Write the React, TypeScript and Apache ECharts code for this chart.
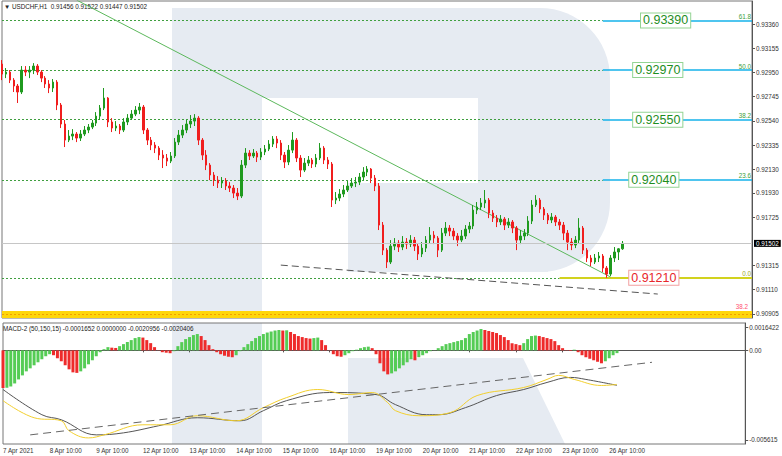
import React, { useEffect, useRef } from 'react';
import * as echarts from 'echarts';

const FONT = 'Liberation Sans';

const tradingDays = ['7 Apr', '8 Apr', '9 Apr', '12 Apr', '13 Apr', '14 Apr', '15 Apr', '16 Apr', '19 Apr', '20 Apr', '21 Apr', '22 Apr', '23 Apr', '26 Apr', '27 Apr', '28 Apr', '29 Apr', '30 Apr'];
const hoursOfDay = [0, 2, 4, 6, 8, 10, 12, 14, 16, 18, 20, 22];
const firstLabel = '7 Apr 2021';

const priceTicks = [0.93360, 0.93155, 0.92950, 0.92745, 0.92540, 0.92335, 0.92130, 0.91930, 0.91725, 0.91315, 0.91110, 0.90905];
const macdTicks = [0.0014, 0, -0.00537];
const macdTickNames = ['0.0016422', '0.00', '-0.005615'];

const firstOpen = 0.93021;
const closes = [
  0.92936, 0.92953, 0.92885, 0.92835, 0.92784, 0.92970, 0.92953, 0.92970, 0.93004, 0.92953,
  0.92902, 0.92852, 0.92818, 0.92868, 0.92674, 0.92513, 0.92377, 0.92411, 0.92428, 0.92394,
  0.92428, 0.92462, 0.92487, 0.92521, 0.92580, 0.92648, 0.92733, 0.92530, 0.92479, 0.92496,
  0.92462, 0.92530, 0.92563, 0.92597, 0.92631, 0.92657, 0.92462, 0.92377, 0.92335, 0.92309,
  0.92250, 0.92225, 0.92199, 0.92242, 0.92360, 0.92419, 0.92462, 0.92513, 0.92538, 0.92563,
  0.92377, 0.92250, 0.92165, 0.92081, 0.92038, 0.92013, 0.92030, 0.91988, 0.91971, 0.91928,
  0.91903, 0.92165, 0.92267, 0.92242, 0.92267, 0.92233, 0.92276, 0.92301, 0.92343, 0.92386,
  0.92352, 0.92250, 0.92191, 0.92292, 0.92377, 0.92225, 0.92123, 0.92182, 0.92208, 0.92174,
  0.92225, 0.92309, 0.92208, 0.92174, 0.91869, 0.91886, 0.91920, 0.91954, 0.91988, 0.92013,
  0.92021, 0.92064, 0.92106, 0.92132, 0.92055, 0.91988, 0.91657, 0.91445, 0.91344, 0.91479,
  0.91505, 0.91471, 0.91513, 0.91496, 0.91530, 0.91479, 0.91412, 0.91462, 0.91530, 0.91572,
  0.91547, 0.91445, 0.91589, 0.91632, 0.91606, 0.91564, 0.91530, 0.91564, 0.91623, 0.91649,
  0.91784, 0.91810, 0.91844, 0.91869, 0.91759, 0.91716, 0.91683, 0.91708, 0.91657, 0.91683,
  0.91632, 0.91530, 0.91564, 0.91589, 0.91691, 0.91827, 0.91869, 0.91793, 0.91742, 0.91700,
  0.91725, 0.91683, 0.91657, 0.91589, 0.91513, 0.91488, 0.91530, 0.91632, 0.91445, 0.91378,
  0.91344, 0.91378, 0.91395, 0.91293, 0.91242, 0.91378, 0.91429, 0.91456, 0.91502,
];
const highs = [
  0.93055, 0.92987, 0.92970, 0.92902, 0.92852, 0.93004, 0.93004, 0.93004, 0.93029, 0.93021,
  0.92970, 0.92919, 0.92885, 0.92894, 0.92885, 0.92691, 0.92547, 0.92462, 0.92470, 0.92445,
  0.92462, 0.92496, 0.92513, 0.92547, 0.92614, 0.92674, 0.92818, 0.92741, 0.92563, 0.92538,
  0.92513, 0.92563, 0.92597, 0.92631, 0.92665, 0.92691, 0.92674, 0.92479, 0.92403, 0.92360,
  0.92326, 0.92292, 0.92259, 0.92276, 0.92394, 0.92462, 0.92504, 0.92547, 0.92589, 0.92597,
  0.92580, 0.92394, 0.92292, 0.92182, 0.92106, 0.92072, 0.92064, 0.92055, 0.92021, 0.91996,
  0.91971, 0.92208, 0.92309, 0.92292, 0.92301, 0.92284, 0.92309, 0.92335, 0.92377, 0.92411,
  0.92411, 0.92377, 0.92276, 0.92335, 0.92445, 0.92394, 0.92250, 0.92225, 0.92242, 0.92225,
  0.92259, 0.92352, 0.92326, 0.92233, 0.92191, 0.91937, 0.91962, 0.91996, 0.92030, 0.92055,
  0.92064, 0.92098, 0.92148, 0.92157, 0.92140, 0.92081, 0.92013, 0.91683, 0.91462, 0.91530,
  0.91547, 0.91530, 0.91564, 0.91547, 0.91572, 0.91556, 0.91505, 0.91513, 0.91564, 0.91640,
  0.91606, 0.91564, 0.91632, 0.91683, 0.91657, 0.91632, 0.91589, 0.91615, 0.91657, 0.91683,
  0.91827, 0.91852, 0.91886, 0.91954, 0.91886, 0.91784, 0.91742, 0.91742, 0.91725, 0.91716,
  0.91700, 0.91649, 0.91615, 0.91623, 0.91733, 0.91869, 0.91911, 0.91886, 0.91810, 0.91759,
  0.91759, 0.91742, 0.91708, 0.91683, 0.91615, 0.91547, 0.91564, 0.91716, 0.91649, 0.91462,
  0.91403, 0.91412, 0.91429, 0.91412, 0.91310, 0.91403, 0.91471, 0.91462, 0.91522,
];
const lows = [
  0.92885, 0.92902, 0.92860, 0.92784, 0.92691, 0.92767, 0.92919, 0.92902, 0.92936, 0.92928,
  0.92868, 0.92818, 0.92775, 0.92784, 0.92631, 0.92479, 0.92318, 0.92360, 0.92377, 0.92360,
  0.92369, 0.92411, 0.92436, 0.92470, 0.92496, 0.92547, 0.92631, 0.92487, 0.92445, 0.92453,
  0.92428, 0.92445, 0.92504, 0.92547, 0.92580, 0.92597, 0.92428, 0.92335, 0.92292, 0.92267,
  0.92208, 0.92140, 0.92157, 0.92182, 0.92225, 0.92335, 0.92394, 0.92436, 0.92479, 0.92496,
  0.92335, 0.92208, 0.92123, 0.92038, 0.91988, 0.91971, 0.91971, 0.91954, 0.91937, 0.91886,
  0.91869, 0.91886, 0.92140, 0.92208, 0.92225, 0.92191, 0.92208, 0.92250, 0.92284, 0.92318,
  0.92309, 0.92208, 0.92140, 0.92165, 0.92267, 0.92191, 0.92064, 0.92106, 0.92157, 0.92140,
  0.92148, 0.92208, 0.92174, 0.92132, 0.91810, 0.91835, 0.91860, 0.91894, 0.91937, 0.91971,
  0.91979, 0.91996, 0.92038, 0.92072, 0.92013, 0.91945, 0.91615, 0.91403, 0.91293, 0.91327,
  0.91445, 0.91429, 0.91445, 0.91454, 0.91471, 0.91437, 0.91361, 0.91386, 0.91429, 0.91505,
  0.91496, 0.91386, 0.91429, 0.91564, 0.91564, 0.91530, 0.91479, 0.91513, 0.91539, 0.91589,
  0.91623, 0.91750, 0.91784, 0.91801, 0.91716, 0.91683, 0.91640, 0.91657, 0.91615, 0.91632,
  0.91589, 0.91445, 0.91496, 0.91530, 0.91564, 0.91666, 0.91810, 0.91759, 0.91700, 0.91666,
  0.91674, 0.91649, 0.91615, 0.91530, 0.91445, 0.91445, 0.91462, 0.91505, 0.91412, 0.91344,
  0.91310, 0.91327, 0.91344, 0.91259, 0.91210, 0.91225, 0.91344, 0.91361, 0.91447,
];
const lastPrice = 0.91502;

const fibValues = [0.93390, 0.92970, 0.92550, 0.92040, 0.91210];
const fibNames = ['61.8', '50.0', '38.2', '23.6', '0.0'];
const bandValue = 0.90905;
const bandName = '38.2';

const trendMain = [[19, 0.93563], [155, 0.91217]];
const supportLine = [[71, 0.91318], [167, 0.91073]];

const histogram = [
  -0.002256, -0.002240, -0.002165, -0.001984, -0.001742, -0.001500, -0.001258, -0.001077, -0.000895, -0.000714,
  -0.000532, -0.000351, -0.000230, -0.000290, -0.000472, -0.000653, -0.000895, -0.001137, -0.001318, -0.001349,
  -0.001258, -0.001077, -0.000835, -0.000593, -0.000351, -0.000109, 0.000073, 0.000194, 0.000163, 0.000145,
  0.000254, 0.000375, 0.000496, 0.000617, 0.000738, 0.000798, 0.000768, 0.000617, 0.000435, 0.000194,
  0.000012, -0.000109, -0.000139, -0.000169, -0.000048, 0.000254, 0.000496, 0.000677, 0.000798, 0.000919,
  0.000980, 0.000859, 0.000617, 0.000314, 0.000073, -0.000109, -0.000230, -0.000321, -0.000381, -0.000411,
  -0.000290, -0.000048, 0.000194, 0.000375, 0.000556, 0.000738, 0.000859, 0.000980, 0.001070, 0.001131,
  0.001191, 0.001222, 0.001191, 0.001204, 0.001101, 0.000980, 0.000859, 0.000798, 0.000738, 0.000708,
  0.000738, 0.000768, 0.000617, 0.000314, 0.000012, -0.000230, -0.000351, -0.000381, -0.000290, -0.000169,
  -0.000048, 0.000042, 0.000133, 0.000194, 0.000224, 0.000133, -0.000230, -0.000774, -0.001258, -0.001439,
  -0.001379, -0.001258, -0.001077, -0.000895, -0.000714, -0.000532, -0.000593, -0.000411, -0.000290, -0.000169,
  -0.000048, 0.000012, 0.000133, 0.000254, 0.000375, 0.000435, 0.000496, 0.000556, 0.000617, 0.000738,
  0.000980, 0.001101, 0.001191, 0.001282, 0.001222, 0.001161, 0.001101, 0.001040, 0.000919, 0.000798,
  0.000617, 0.000435, 0.000375, 0.000314, 0.000435, 0.000677, 0.000859, 0.000889, 0.000859, 0.000798,
  0.000738, 0.000677, 0.000556, 0.000314, 0.000133, -0.000018, -0.000036, 0.000042, -0.000109, -0.000290,
  -0.000411, -0.000502, -0.000593, -0.000683, -0.000774, -0.000653, -0.000472, -0.000290, -0.000165,
];
const macdLine = [
  [0, -0.002347], [10, -0.003859], [15, -0.004161], [24, -0.005068], [31, -0.004947], [40, -0.004524],
  [50, -0.004040], [61, -0.004222], [67, -0.003617], [73, -0.003012], [84, -0.002528], [96, -0.002649],
  [101, -0.003254], [109, -0.003859], [112, -0.003859], [119, -0.003435], [127, -0.002710], [134, -0.002347],
  [140, -0.001923], [146, -0.001621], [150, -0.001742], [158, -0.0020956],
];
const signalLine = [
  [0, -0.003012], [8, -0.004040], [15, -0.004222], [17, -0.004826], [22, -0.005250], [26, -0.005068],
  [36, -0.004463], [43, -0.004463], [50, -0.003919], [60, -0.004222], [67, -0.003435], [73, -0.002830],
  [81, -0.002347], [89, -0.002649], [95, -0.002528], [99, -0.003133], [101, -0.003617], [107, -0.003919],
  [115, -0.003738], [122, -0.002710], [134, -0.002226], [140, -0.001742], [143, -0.001500], [147, -0.001742],
  [154, -0.002105], [158, -0.0020406],
];
const macdTrend = [[7, -0.005068], [167, -0.000714]];

const headerText = '▼ USDCHF,H1  0.91456 0.91522 0.91447 0.91502';
const macdText = 'MACD-2 (50,150,15) -0.0001652 0.0000000 -0.0020956 -0.0020406';

// layout (pixels / indices), not data
const SLOTS = 192;
const lastIdx = closes.length - 1;
const splitIdx = [153, 153, 153, 153, 142];
const boxIdx = [169, 167, 167, 166, 166];
const WM = '#e6ebf2';

function buildOption() {
  const slots: { day: string; hour: number }[] = [];
  tradingDays.forEach((d, di) => {
    hoursOfDay.forEach((h) => {
      if (di === 0 && h < 10) return;
      slots.push({ day: d, hour: h });
    });
  });
  const used = slots.slice(0, SLOTS);
  const categories = used.map((s) => `${s.day} ${String(s.hour).padStart(2, '0')}:00`);
  const showLabel = (idx: number) => idx <= lastIdx && (idx === 0 || used[idx].hour === 10);

  const ohlc = closes.map((c, i) => [i === 0 ? firstOpen : closes[i - 1], c, lows[i], highs[i]]);
  const histData = histogram.map((v, i) => ({
    value: v,
    itemStyle: { color: i === 0 || v < histogram[i - 1] ? '#ee2b2b' : '#55cc55' },
  }));

  const fibMark: any[] = [];
  fibValues.forEach((v, k) => {
    fibMark.push([
      { coord: [0, v], lineStyle: { color: '#3f9f3f', width: 1, type: [2, 2] }, label: { show: false } },
      { coord: [splitIdx[k], v] },
    ]);
    fibMark.push([
      {
        coord: [splitIdx[k], v],
        lineStyle: { color: k === 4 ? '#d2d21e' : '#14b2ea', width: k === 4 ? 2 : 1.5, type: 'solid' },
        label: {
          show: true, position: 'insideEndTop', formatter: fibNames[k], distance: 1,
          color: k === 4 ? '#9aa81a' : '#3da03d', fontSize: 6.3, fontFamily: FONT,
        },
      },
      { coord: [SLOTS - 1, v] },
    ]);
  });
  fibMark.push([
    {
      coord: [0, bandValue], lineStyle: { color: '#ffd60a', width: 7, type: 'solid' },
      label: { show: true, position: 'insideEndTop', formatter: bandName, distance: 4, color: '#ff5070', fontSize: 6.3, fontFamily: FONT },
    },
    { coord: [SLOTS - 1, bandValue] },
  ]);
  fibMark.push([
    { coord: [0, bandValue], lineStyle: { color: '#f0a000', width: 1, type: [2, 2] }, label: { show: false } },
    { coord: [SLOTS - 1, bandValue] },
  ]);

  const axisLabelStyle = { fontSize: 6.3, fontFamily: FONT, color: '#333' };

  return {
    animation: false,
    backgroundColor: '#fff',
    textStyle: { fontFamily: FONT },
    grid: [
      { left: 2, right: 30, top: 1, height: 317, show: true, borderColor: '#777', borderWidth: 1 },
      { left: 2, right: 30, top: 323, height: 121, show: true, borderColor: '#777', borderWidth: 1 },
    ],
    xAxis: [
      {
        type: 'category', gridIndex: 0, data: categories, boundaryGap: false,
        axisLine: { show: false }, axisTick: { show: false }, axisLabel: { show: false }, splitLine: { show: false },
      },
      {
        type: 'category', gridIndex: 1, data: categories, boundaryGap: false,
        axisLine: { show: true, lineStyle: { color: '#555' } },
        axisTick: { show: true, length: 2, interval: (idx: number) => showLabel(idx), lineStyle: { color: '#555' } },
        axisLabel: {
          ...axisLabelStyle, align: 'left', margin: 3,
          interval: (idx: number) => showLabel(idx),
          formatter: (val: string, idx: number) => (idx === 0 ? firstLabel : val),
        },
        splitLine: { show: false },
      },
    ],
    yAxis: [
      {
        type: 'value', gridIndex: 0, position: 'right', min: 0.9087, max: 0.93555,
        axisLine: { show: true, lineStyle: { color: '#555' } },
        axisTick: { show: true, length: 3, customValues: priceTicks, lineStyle: { color: '#555' } },
        axisLabel: { ...axisLabelStyle, margin: 4, customValues: priceTicks, formatter: (v: number) => v.toFixed(5) },
        splitLine: { show: false },
      },
      {
        type: 'value', gridIndex: 1, position: 'right', min: -0.005615, max: 0.0016422,
        axisLine: { show: true, lineStyle: { color: '#555' } },
        axisTick: { show: true, length: 3, customValues: macdTicks, lineStyle: { color: '#555' } },
        axisLabel: {
          ...axisLabelStyle, margin: 4, customValues: macdTicks,
          formatter: (v: number) => macdTickNames[macdTicks.indexOf(v)] ?? '',
        },
        splitLine: { show: false },
      },
    ],
    graphic: [
      { type: 'rect', silent: true, z: -10, shape: { x: 172, y: 8, width: 90, height: 310 }, style: { fill: WM } },
      { type: 'rect', silent: true, z: -10, shape: { x: 262, y: 8, width: 260, height: 90 }, style: { fill: WM } },
      { type: 'rect', silent: true, z: -10, shape: { x: 478, y: 8, width: 132, height: 264, r: [0, 70, 70, 0] }, style: { fill: WM } },
      { type: 'rect', silent: true, z: -10, shape: { x: 348, y: 183, width: 200, height: 89 }, style: { fill: WM } },
      { type: 'rect', silent: true, z: -10, shape: { x: 172, y: 323, width: 90, height: 121 }, style: { fill: WM } },
      { type: 'polygon', silent: true, z: -10, shape: { points: [[348, 358], [523, 358], [565, 444], [348, 444]] }, style: { fill: WM } },
      { type: 'text', silent: true, left: 4, top: 3, style: { text: headerText, fontSize: 6.3, fontFamily: FONT, fill: '#222' } },
      { type: 'text', silent: true, left: 3, top: 325, style: { text: macdText, fontSize: 6.3, fontFamily: FONT, fill: '#222' } },
    ],
    series: [
      {
        type: 'line', xAxisIndex: 0, yAxisIndex: 0, data: supportLine, symbol: 'none',
        lineStyle: { color: '#555', width: 1, type: [7, 4] }, z: 2,
        markLine: {
          silent: true, symbol: ['none', 'none'],
          lineStyle: { color: '#c6c6c6', width: 1, type: 'solid' },
          label: {
            show: true, position: 'end', distance: 2, formatter: lastPrice.toFixed(5),
            color: '#fff', backgroundColor: '#000', padding: [1, 2, 0, 2], fontSize: 6.3, fontFamily: FONT,
          },
          data: [[{ coord: [0, lastPrice] }, { coord: [SLOTS - 1, lastPrice] }]],
        },
      },
      {
        type: 'candlestick', xAxisIndex: 0, yAxisIndex: 0, data: ohlc, barWidth: 2,
        itemStyle: { color: '#1f9a1f', color0: '#f01e1e', borderColor: '#1f9a1f', borderColor0: '#f01e1e', borderWidth: 1 },
        z: 3,
      },
      {
        type: 'line', xAxisIndex: 0, yAxisIndex: 0, data: trendMain, symbol: 'none', clip: true,
        lineStyle: { color: '#5cb85c', width: 1 },
        markLine: { silent: true, symbol: ['none', 'none'], data: fibMark, z: 1 },
        markPoint: {
          silent: true, symbol: 'rect', symbolSize: 1, itemStyle: { color: 'rgba(0,0,0,0)' },
          label: {
            show: true, position: 'inside', fontSize: 12.5, fontFamily: FONT, padding: [1, 2, 0, 2],
            backgroundColor: '#fff', borderWidth: 1, formatter: '{b}',
          },
          data: fibValues.map((v, k) => ({
            coord: [boxIdx[k], v], name: v.toFixed(5),
            label: { color: k === 4 ? '#e8262b' : '#1e8e1e', borderColor: k === 4 ? '#f2a0a0' : '#93d493' },
          })),
          z: 5,
        },
        z: 2,
      },
      {
        type: 'bar', xAxisIndex: 1, yAxisIndex: 1, data: histData, barWidth: 3,
      },
      {
        type: 'line', xAxisIndex: 1, yAxisIndex: 1, data: macdLine, symbol: 'none', smooth: 0.4,
        lineStyle: { color: '#555', width: 1 },
      },
      {
        type: 'line', xAxisIndex: 1, yAxisIndex: 1, data: signalLine, symbol: 'none', smooth: 0.4,
        lineStyle: { color: '#f2cf2e', width: 1 },
      },
      {
        type: 'line', xAxisIndex: 1, yAxisIndex: 1, data: macdTrend, symbol: 'none',
        lineStyle: { color: '#666', width: 1, type: [8, 5] },
      },
    ],
  };
}

export default function App() {
  const ref = useRef<HTMLDivElement>(null);
  useEffect(() => {
    document.body.style.margin = '0';
    const chart = echarts.init(ref.current!, null, { renderer: 'svg' });
    chart.setOption(buildOption() as any);
    return () => chart.dispose();
  }, []);
  return <div ref={ref} style={{ width: 782, height: 456 }} />;
}
